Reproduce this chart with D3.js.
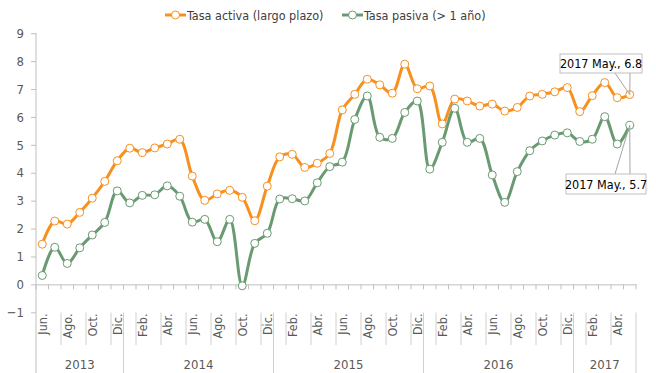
<!DOCTYPE html>
<html>
<head>
<meta charset="utf-8">
<script src="https://cdn.jsdelivr.net/npm/d3@7/dist/d3.min.js"></script>
<style>
  html, body { margin: 0; padding: 0; background: #fff; }
  svg { display: block; }
  text { font-family: "DejaVu Sans Condensed", "Liberation Sans Narrow", "Roboto", sans-serif; }
</style>
</head>
<body>
<svg id="chart" width="656" height="373"></svg>
<script>
// Monthly series, June 2013 – May 2017
const years = [2013, 2014, 2015, 2016, 2017];
const monthsPerYear = [7, 12, 12, 12, 5];
const monthNames = ["Ene.", "Feb.", "Mar.", "Abr.", "May.", "Jun.", "Jul.", "Ago.", "Sep.", "Oct.", "Nov.", "Dic."];
const firstMonth = 5; // June

const tasaActiva = [1.44, 2.27, 2.16, 2.58, 3.09, 3.69, 4.43, 4.88, 4.72, 4.89, 5.03, 5.20,
  3.88, 3.01, 3.24, 3.37, 3.12, 2.28, 3.52, 4.57, 4.66, 4.19, 4.34, 4.69,
  6.25, 6.81, 7.35, 7.15, 6.85, 7.89, 7.01, 7.11, 5.75, 6.64, 6.57, 6.39,
  6.46, 6.21, 6.34, 6.75, 6.81, 6.90, 7.05, 6.19, 6.76, 7.23, 6.69, 6.8];

const tasaPasiva = [0.32, 1.33, 0.75, 1.31, 1.77, 2.22, 3.35, 2.92, 3.19, 3.21, 3.53, 3.16,
  2.23, 2.33, 1.53, 2.33, -0.05, 1.47, 1.83, 3.06, 3.07, 2.99, 3.64, 4.22,
  4.38, 5.91, 6.75, 5.27, 5.23, 6.16, 6.57, 4.13, 5.09, 6.31, 5.09, 5.23,
  3.92, 2.94, 4.04, 4.79, 5.14, 5.35, 5.43, 5.12, 5.20, 6.01, 5.03, 5.7];

const yTicks = [-1, 0, 1, 2, 3, 4, 5, 6, 7, 8, 9];
const seriesNames = ["Tasa activa (largo plazo)", "Tasa pasiva (> 1 año)"];
const lastLabels = ["2017 May., 6.8", "2017 May., 5.7"];

// Build month categories
const months = [];
let m = firstMonth;
years.forEach((yr, yi) => {
  for (let k = 0; k < monthsPerYear[yi]; k++) {
    months.push({ year: yr, month: m, name: monthNames[m] });
    m = (m + 1) % 12;
  }
});

const colors = ["#F7901E", "#6A9A72"];
const svg = d3.select("#chart");

const x = d3.scaleBand().domain(d3.range(months.length)).range([36, 636]).padding(0);
const y = d3.scaleLinear().domain([-1, 9]).range([312.3, 33.2]);
const cx = i => x(i) + x.bandwidth() / 2;

// Y axis
const yAxis = d3.axisLeft(y).tickValues(yTicks).tickSize(5).tickPadding(7).tickFormat(d3.format("d"));
const yg = svg.append("g").attr("transform", "translate(36,0)").call(yAxis);
yg.select(".domain").remove();
yg.selectAll(".tick line").attr("stroke", "#BFBFBF");
yg.selectAll(".tick text").attr("fill", "#595959").style("font-size", "13px");
svg.append("line").attr("x1", 36).attr("x2", 36).attr("y1", 33).attr("y2", 373)
  .attr("stroke", "#BFBFBF").attr("stroke-width", 1);

// X axis along zero
const xAxis = d3.axisBottom(x).tickSize(0).tickFormat("");
const xg = svg.append("g").attr("transform", `translate(0,${y(0)})`).call(xAxis);
xg.select(".domain").attr("stroke", "#BFBFBF");
xg.selectAll(".tick").remove();
svg.append("g").selectAll("line").data(d3.range(months.length + 1)).join("line")
  .attr("x1", i => i < months.length ? x(i) : x.range()[1])
  .attr("x2", i => i < months.length ? x(i) : x.range()[1])
  .attr("y1", y(0)).attr("y2", y(0) + 5)
  .attr("stroke", "#BFBFBF");

// Month labels (every other month) with separators
const labelTop = 312.5;
const shown = months.map((d, i) => i).filter(i => i % 2 === 0);
const sepIdx = new Set();
shown.forEach(i => sepIdx.add(i));
months.forEach((d, i) => { if (d.month === 0) sepIdx.add(i); });
sepIdx.delete(0);
svg.append("g").selectAll("line").data([...sepIdx]).join("line")
  .attr("x1", i => x(i)).attr("x2", i => x(i))
  .attr("y1", labelTop).attr("y2", i => months[i].month === 0 ? 373 : 345)
  .attr("stroke", "#D0D0D0");
svg.append("line").attr("x1", 636).attr("x2", 636).attr("y1", labelTop).attr("y2", 373).attr("stroke", "#D0D0D0");

svg.append("g").selectAll("text").data(shown).join("text")
  .attr("transform", i => `translate(${cx(i) + 4.5},${labelTop + 1}) rotate(-90)`)
  .attr("text-anchor", "end")
  .attr("fill", "#595959")
  .style("font-size", "12.5px")
  .text(i => months[i].name);

// Year labels
let start = 0;
const yearSpans = years.map((yr, yi) => {
  const s = { year: yr, a: start, b: start + monthsPerYear[yi] };
  start += monthsPerYear[yi];
  return s;
});
svg.append("g").selectAll("text").data(yearSpans).join("text")
  .attr("x", d => (x(d.a) + (d.b < months.length ? x(d.b) : x.range()[1])) / 2)
  .attr("y", 369)
  .attr("text-anchor", "middle")
  .attr("fill", "#595959")
  .style("font-size", "13px")
  .text(d => d.year);

// Lines and markers
const line = d3.line().x((d, i) => cx(i)).y(d => y(d)).curve(d3.curveCatmullRom.alpha(0.5));
[tasaActiva, tasaPasiva].forEach((vals, si) => {
  svg.append("path").datum(vals).attr("d", line)
    .attr("fill", "none").attr("stroke", colors[si]).attr("stroke-width", 3)
    .attr("stroke-linejoin", "round");
  svg.append("g").selectAll("circle").data(vals).join("circle")
    .attr("cx", (d, i) => cx(i)).attr("cy", d => y(d)).attr("r", 4)
    .attr("fill", "#fff").attr("stroke", colors[si]).attr("stroke-width", 1);
});

// Legend
const legend = [{ x: 165, name: seriesNames[0] }, { x: 342, name: seriesNames[1] }];
legend.forEach((l, si) => {
  const g = svg.append("g");
  g.append("line").attr("x1", l.x).attr("x2", l.x + 21).attr("y1", 15).attr("y2", 15)
    .attr("stroke", colors[si]).attr("stroke-width", 3);
  g.append("circle").attr("cx", l.x + 10.5).attr("cy", 15).attr("r", 4)
    .attr("fill", "#fff").attr("stroke", colors[si]);
  g.append("text").attr("x", l.x + 22).attr("y", 19.5).attr("fill", "#404040")
    .style("font-size", "12.5px").text(l.name);
});

// Callouts for the last values
const last = months.length - 1;
const callouts = [
  { v: tasaActiva[last], text: lastLabels[0], bx: 560, by: 54, bw: 82, bh: 19, above: true },
  { v: tasaPasiva[last], text: lastLabels[1], bx: 566, by: 174, bw: 80, bh: 20, above: false }
];
callouts.forEach(c => {
  const px = cx(last), py = y(c.v);
  const edge = c.above ? c.by + c.bh : c.by;
  const g = svg.append("g");
  g.append("line").attr("x1", px).attr("y1", py).attr("x2", 615).attr("y2", edge).attr("stroke", "#A6A6A6");
  g.append("line").attr("x1", px).attr("y1", py).attr("x2", 630).attr("y2", edge).attr("stroke", "#A6A6A6");
  g.append("rect").attr("x", c.bx).attr("y", c.by).attr("width", c.bw).attr("height", c.bh)
    .attr("fill", "#fff").attr("stroke", "#BFBFBF");
  g.append("text").attr("x", c.bx + c.bw / 2).attr("y", c.by + c.bh / 2 + 4.5)
    .attr("text-anchor", "middle").attr("fill", "#000").style("font-size", "12.5px")
    .text(c.text);
});
</script>
</body>
</html>
